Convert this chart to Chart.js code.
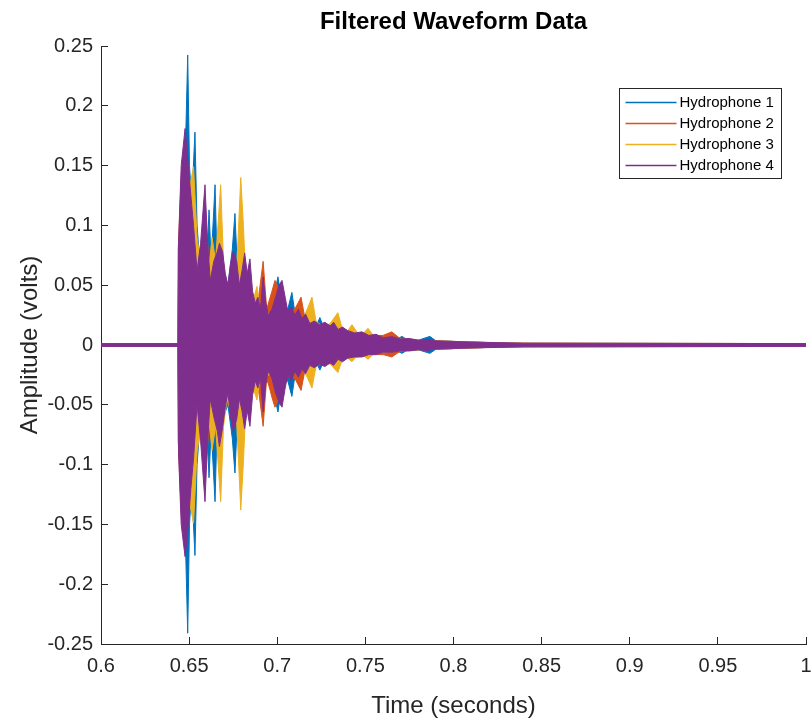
<!DOCTYPE html>
<html>
<head>
<meta charset="utf-8">
<title>Filtered Waveform Data</title>
<script src="https://cdn.jsdelivr.net/npm/chart.js@4.4.1/dist/chart.umd.min.js"></script>
<style>
  body { margin: 0; background: #fff; }
  canvas { display: block; }
</style>
</head>
<body>
<canvas id="waveChart" width="812" height="721"></canvas>
<script>
// envelope of each filtered trace (upper / lower peaks)
const h1Time  = [0.600, 0.6436, 0.6440, 0.6460, 0.6480, 0.6492, 0.6502, 0.6515, 0.6533, 0.6545, 0.6560, 0.6580, 0.6598, 0.6613, 0.6625, 0.6647, 0.6660, 0.6680, 0.6700, 0.6720, 0.6745, 0.6760, 0.6775, 0.6800, 0.6830, 0.6860, 0.6890, 0.6920, 0.6950, 0.6980, 0.7004, 0.7030, 0.7060, 0.7083, 0.7105, 0.7140, 0.7180, 0.7215, 0.7242, 0.7270, 0.7320, 0.7380, 0.7440, 0.7500, 0.7560, 0.7620, 0.7680, 0.7708, 0.7740, 0.7800, 0.7866, 0.7900, 0.8000, 0.8200, 0.8400, 1.000];
const h1Upper = [0.0012, 0.0012, 0.060, 0.120, 0.170, 0.2425, 0.150, 0.120, 0.178, 0.100, 0.070, 0.090, 0.060, 0.113, 0.070, 0.134, 0.060, 0.050, 0.060, 0.050, 0.080, 0.110, 0.060, 0.040, 0.045, 0.035, 0.030, 0.035, 0.030, 0.040, 0.057, 0.030, 0.030, 0.044, 0.022, 0.020, 0.015, 0.014, 0.023, 0.012, 0.012, 0.010, 0.008, 0.008, 0.007, 0.005, 0.005, 0.0072, 0.004, 0.004, 0.0072, 0.0035, 0.003, 0.002, 0.0015, 0.0012];
const h1Lower = [-0.0012, -0.0012, -0.060, -0.120, -0.170, -0.241, -0.150, -0.120, -0.176, -0.100, -0.070, -0.088, -0.060, -0.111, -0.070, -0.131, -0.060, -0.050, -0.058, -0.050, -0.078, -0.107, -0.058, -0.040, -0.043, -0.034, -0.030, -0.034, -0.030, -0.040, -0.056, -0.030, -0.030, -0.043, -0.021, -0.019, -0.015, -0.013, -0.021, -0.012, -0.012, -0.010, -0.008, -0.008, -0.007, -0.005, -0.005, -0.0070, -0.004, -0.004, -0.0070, -0.0035, -0.003, -0.002, -0.0015, -0.0012];

const h2Time  = [0.600, 0.6436, 0.6438, 0.6455, 0.6477, 0.6500, 0.6530, 0.6560, 0.6590, 0.6620, 0.6650, 0.6680, 0.6710, 0.6740, 0.6770, 0.6800, 0.6830, 0.6860, 0.6890, 0.6920, 0.6940, 0.6960, 0.6970, 0.6987, 0.7000, 0.7015, 0.7040, 0.7070, 0.7100, 0.7135, 0.7160, 0.7200, 0.7240, 0.7280, 0.7320, 0.7360, 0.7400, 0.7450, 0.7500, 0.7550, 0.7600, 0.7650, 0.7700, 0.7800, 0.7900, 0.8000, 0.8200, 0.8400, 1.000];
const h2Upper = [0.0012, 0.0012, 0.080, 0.140, 0.170, 0.130, 0.090, 0.070, 0.110, 0.060, 0.070, 0.060, 0.050, 0.055, 0.050, 0.050, 0.045, 0.040, 0.035, 0.070, 0.030, 0.040, 0.045, 0.054, 0.050, 0.035, 0.030, 0.028, 0.030, 0.040, 0.020, 0.018, 0.016, 0.017, 0.014, 0.013, 0.012, 0.010, 0.009, 0.008, 0.008, 0.011, 0.005, 0.004, 0.0035, 0.003, 0.002, 0.0015, 0.0012];
const h2Lower = [-0.0012, -0.0012, -0.080, -0.140, -0.168, -0.128, -0.088, -0.068, -0.108, -0.058, -0.068, -0.058, -0.048, -0.053, -0.048, -0.048, -0.043, -0.038, -0.033, -0.068, -0.028, -0.038, -0.044, -0.052, -0.048, -0.033, -0.028, -0.026, -0.028, -0.038, -0.019, -0.017, -0.015, -0.016, -0.013, -0.012, -0.011, -0.010, -0.009, -0.008, -0.008, -0.010, -0.005, -0.004, -0.0035, -0.003, -0.002, -0.0015, -0.0012];

const h3Time  = [0.600, 0.6436, 0.6440, 0.6460, 0.6480, 0.6500, 0.6525, 0.6545, 0.6565, 0.6590, 0.6610, 0.6630, 0.6650, 0.6679, 0.6695, 0.6715, 0.6740, 0.6765, 0.6778, 0.6793, 0.6808, 0.6820, 0.6850, 0.6885, 0.6905, 0.6930, 0.6960, 0.6990, 0.7020, 0.7050, 0.7080, 0.7110, 0.7140, 0.7170, 0.7197, 0.7220, 0.7260, 0.7300, 0.7344, 0.7370, 0.7400, 0.7424, 0.7460, 0.7490, 0.7515, 0.7550, 0.7600, 0.7700, 0.7800, 0.7900, 0.8000, 0.8200, 0.8400, 1.000];
const h3Upper = [0.0012, 0.0012, 0.050, 0.110, 0.140, 0.130, 0.149, 0.090, 0.070, 0.080, 0.060, 0.090, 0.070, 0.134, 0.070, 0.045, 0.060, 0.050, 0.090, 0.140, 0.100, 0.060, 0.030, 0.049, 0.025, 0.030, 0.025, 0.030, 0.025, 0.030, 0.020, 0.025, 0.020, 0.030, 0.040, 0.020, 0.015, 0.018, 0.027, 0.013, 0.012, 0.017, 0.009, 0.010, 0.014, 0.007, 0.006, 0.005, 0.004, 0.0035, 0.003, 0.002, 0.0015, 0.0012];
const h3Lower = [-0.0012, -0.0012, -0.050, -0.110, -0.140, -0.130, -0.149, -0.090, -0.070, -0.080, -0.060, -0.088, -0.068, -0.131, -0.068, -0.045, -0.058, -0.050, -0.090, -0.138, -0.098, -0.058, -0.030, -0.046, -0.024, -0.028, -0.024, -0.028, -0.024, -0.028, -0.019, -0.023, -0.019, -0.027, -0.036, -0.018, -0.014, -0.016, -0.023, -0.012, -0.011, -0.014, -0.008, -0.009, -0.012, -0.007, -0.006, -0.005, -0.004, -0.0035, -0.003, -0.002, -0.0015, -0.0012];

const h4Time  = [0.600, 0.6436, 0.6440, 0.6455, 0.6477, 0.6495, 0.6510, 0.6525, 0.6545, 0.6565, 0.6590, 0.6605, 0.6620, 0.6640, 0.6660, 0.6672, 0.6690, 0.6705, 0.6720, 0.6735, 0.6750, 0.6770, 0.6785, 0.6800, 0.6815, 0.6830, 0.6845, 0.6860, 0.6875, 0.6890, 0.6905, 0.6920, 0.6935, 0.6950, 0.6970, 0.6990, 0.7010, 0.7027, 0.7045, 0.7060, 0.7080, 0.7100, 0.7120, 0.7140, 0.7160, 0.7185, 0.7210, 0.7240, 0.7270, 0.7300, 0.7320, 0.7345, 0.7370, 0.7400, 0.7440, 0.7480, 0.7520, 0.7560, 0.7600, 0.7650, 0.7700, 0.7750, 0.7800, 0.7850, 0.7900, 0.8000, 0.8100, 0.8250, 0.8400, 1.000];
const h4Upper = [0.0012, 0.0012, 0.085, 0.150, 0.181, 0.150, 0.125, 0.100, 0.062, 0.085, 0.134, 0.085, 0.054, 0.070, 0.078, 0.085, 0.078, 0.060, 0.050, 0.068, 0.078, 0.070, 0.050, 0.062, 0.077, 0.060, 0.072, 0.045, 0.035, 0.040, 0.030, 0.057, 0.035, 0.025, 0.030, 0.040, 0.050, 0.054, 0.040, 0.028, 0.032, 0.025, 0.030, 0.022, 0.026, 0.018, 0.020, 0.017, 0.019, 0.016, 0.019, 0.013, 0.015, 0.012, 0.010, 0.011, 0.008, 0.009, 0.006, 0.007, 0.005, 0.0055, 0.004, 0.0045, 0.0035, 0.003, 0.0025, 0.002, 0.0015, 0.0012];
const h4Lower = [-0.0012, -0.0012, -0.090, -0.150, -0.177, -0.150, -0.120, -0.095, -0.050, -0.080, -0.131, -0.080, -0.045, -0.060, -0.072, -0.085, -0.069, -0.052, -0.040, -0.060, -0.072, -0.062, -0.045, -0.055, -0.070, -0.055, -0.068, -0.042, -0.030, -0.036, -0.028, -0.056, -0.032, -0.022, -0.028, -0.040, -0.048, -0.052, -0.036, -0.025, -0.030, -0.022, -0.027, -0.020, -0.024, -0.017, -0.019, -0.016, -0.018, -0.015, -0.017, -0.012, -0.014, -0.011, -0.010, -0.010, -0.008, -0.008, -0.006, -0.006, -0.005, -0.005, -0.004, -0.0045, -0.0035, -0.003, -0.0025, -0.002, -0.0015, -0.0012];

const seriesNames = ["Hydrophone 1", "Hydrophone 2", "Hydrophone 3", "Hydrophone 4"];
const seriesColors = ["#0072BD", "#D95319", "#EDB120", "#7E2F8E"];

const xTickValues = [0.6, 0.65, 0.7, 0.75, 0.8, 0.85, 0.9, 0.95, 1];
const xTickLabels = ["0.6", "0.65", "0.7", "0.75", "0.8", "0.85", "0.9", "0.95", "1"];
const yTickValues = [-0.25, -0.2, -0.15, -0.1, -0.05, 0, 0.05, 0.1, 0.15, 0.2, 0.25];
const yTickLabels = ["-0.25", "-0.2", "-0.15", "-0.1", "-0.05", "0", "0.05", "0.1", "0.15", "0.2", "0.25"];

const traces = [
  [h1Time, h1Upper, h1Lower],
  [h2Time, h2Upper, h2Lower],
  [h3Time, h3Upper, h3Lower],
  [h4Time, h4Upper, h4Lower]
];

const FONT = "'Liberation Sans', Arial, Helvetica, sans-serif";
const AXIS = "#262626";

// each hydrophone = upper envelope + lower envelope filled to it
const datasets = [];
traces.forEach((tr, i) => {
  const [t, up, lo] = tr;
  const common = {
    borderColor: seriesColors[i],
    backgroundColor: seriesColors[i],
    borderWidth: 1,
    pointRadius: 0,
    tension: 0,
    order: 4 - i
  };
  datasets.push({ ...common, label: seriesNames[i], data: t.map((x, k) => ({ x: x, y: up[k] })), fill: false });
  datasets.push({ ...common, label: seriesNames[i] + " low", data: t.map((x, k) => ({ x: x, y: lo[k] })), fill: "-1" });
});

// MATLAB style legend box, inside the axes top right
const boxLegend = {
  id: "boxLegend",
  afterDraw(chart) {
    const ctx = chart.ctx;
    const left = 619.5, top = 88.5, w = 162, h = 90;
    ctx.save();
    ctx.fillStyle = "#fff";
    ctx.fillRect(left, top, w, h);
    ctx.strokeStyle = AXIS;
    ctx.lineWidth = 1;
    ctx.strokeRect(left, top, w, h);
    ctx.font = "15px " + FONT;
    ctx.textBaseline = "middle";
    seriesNames.forEach((name, i) => {
      const y = top + 14 + i * 21;
      ctx.strokeStyle = seriesColors[i];
      ctx.lineWidth = 1.5;
      ctx.beginPath();
      ctx.moveTo(left + 6, y);
      ctx.lineTo(left + 57, y);
      ctx.stroke();
      ctx.fillStyle = "#000";
      ctx.fillText(name, left + 60, y);
    });
    ctx.restore();
  }
};

new Chart(document.getElementById("waveChart"), {
  type: "line",
  data: { datasets: datasets },
  plugins: [boxLegend],
  options: {
    responsive: false,
    animation: false,
    devicePixelRatio: 1,
    layout: { padding: { left: 0, right: 6, top: 0, bottom: 0 } },
    plugins: {
      legend: { display: false },
      tooltip: { enabled: false },
      title: {
        display: true,
        fullSize: false,
        text: "Filtered Waveform Data",
        color: "#000",
        font: { family: FONT, size: 24, weight: "bold", lineHeight: 1.2 },
        padding: { top: 7.6, bottom: 9.6 },
        align: "center"
      }
    },
    scales: {
      x: {
        type: "linear",
        min: 0.6,
        max: 1,
        afterBuildTicks: s => { s.ticks = xTickValues.map(v => ({ value: v })); },
        afterFit: s => { s.height = 77; s.paddingLeft = 0; s.paddingRight = 0; },
        ticks: {
          autoSkip: false,
          maxRotation: 0,
          padding: 17,
          color: AXIS,
          font: { family: FONT, size: 20 },
          callback: (v, i) => xTickLabels[i]
        },
        grid: { drawOnChartArea: false, drawTicks: true, tickLength: -7, color: AXIS, lineWidth: 1 },
        border: { display: true, color: AXIS, width: 1 },
        title: {
          display: true,
          text: "Time (seconds)",
          color: AXIS,
          font: { family: FONT, size: 24, lineHeight: 1.2 },
          padding: { top: 0, bottom: 0 }
        }
      },
      y: {
        type: "linear",
        min: -0.25,
        max: 0.25,
        afterBuildTicks: s => { s.ticks = yTickValues.map(v => ({ value: v })); },
        afterFit: s => { s.width = 101; s.paddingTop = 0; s.paddingBottom = 0; },
        ticks: {
          autoSkip: false,
          padding: 15,
          color: AXIS,
          font: { family: FONT, size: 20 },
          callback: (v, i) => yTickLabels[i]
        },
        grid: { drawOnChartArea: false, drawTicks: true, tickLength: -7, color: AXIS, lineWidth: 1 },
        border: { display: true, color: AXIS, width: 1 },
        title: {
          display: true,
          text: "Amplitude (volts)",
          color: AXIS,
          font: { family: FONT, size: 24, lineHeight: 1.2 },
          padding: { top: 15.6, bottom: 0 }
        }
      }
    }
  }
});
</script>
</body>
</html>
